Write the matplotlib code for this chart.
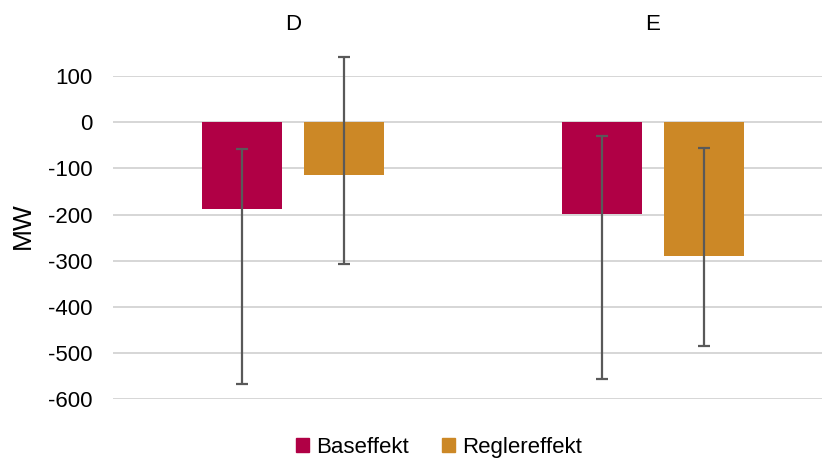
import numpy as np
import matplotlib.pyplot as plt
from matplotlib.patches import Patch

plt.rcParams['font.family'] = ['Liberation Sans', 'DejaVu Sans']

categories = ['D', 'E']
series_names = ['Baseffekt', 'Reglereffekt']
base = [-189, -198]
base_low = [-567, -556]
base_high = [-59, -29]
regler = [-115, -289]
regler_low = [-306, -484]
regler_high = [141, -56]
yticks = [100, 0, -100, -200, -300, -400, -500, -600]

colors = ['#B00045', '#CC8826']
err_color = '#595959'


def main():
    fig = plt.figure(figsize=(8.22, 4.61), dpi=100)
    ax = fig.add_axes([113 / 822, 61.7 / 461, 720 / 822, 323.3 / 461])

    x = np.arange(len(categories))
    width = 0.222
    offset = 0.1425
    series = [(base, base_low, base_high), (regler, regler_low, regler_high)]
    for k, (vals, lo, hi) in enumerate(series):
        vals = np.array(vals)
        pos = x + (k * 2 - 1) * offset
        ax.bar(pos, vals, width, color=colors[k], zorder=2)
        yerr = [vals - np.array(lo), np.array(hi) - vals]
        ax.errorbar(pos, vals, yerr=yerr, fmt='none', ecolor=err_color,
                    elinewidth=1.6, capsize=4.3, capthick=1.6,
                    zorder=3, clip_on=False)

    ax.set_xlim(-0.5, 1.5)
    ax.set_ylim(-600, 100)
    ax.set_yticks(yticks)
    ax.set_yticklabels([str(t) for t in yticks])
    ax.set_xticks([])
    ax.tick_params(axis='y', length=0, pad=15, labelsize=16, colors='#000000')
    ax.yaxis.grid(True, color='#d6d6d6', linewidth=1.4, zorder=0)
    ax.set_axisbelow(True)
    for s in ax.spines.values():
        s.set_visible(False)

    fig.text(23 / 822, 1 - 226 / 461, 'MW', rotation=90, ha='center',
             va='center', fontsize=19)

    # category names along the top
    for i, c in enumerate(categories):
        ax.text(i, 1.158, c, transform=ax.get_xaxis_transform(),
                ha='center', va='center', fontsize=16)

    handles = [Patch(color=colors[k], label=series_names[k]) for k in range(2)]
    fig.legend(handles=handles, loc='center', bbox_to_anchor=(439 / 822, 0.03),
               ncol=2, frameon=False, fontsize=16, handlelength=0.6,
               handleheight=0.6, handletextpad=0.3, columnspacing=1.5)

    fig.savefig('out.png', dpi=100)


if __name__ == '__main__':
    main()
